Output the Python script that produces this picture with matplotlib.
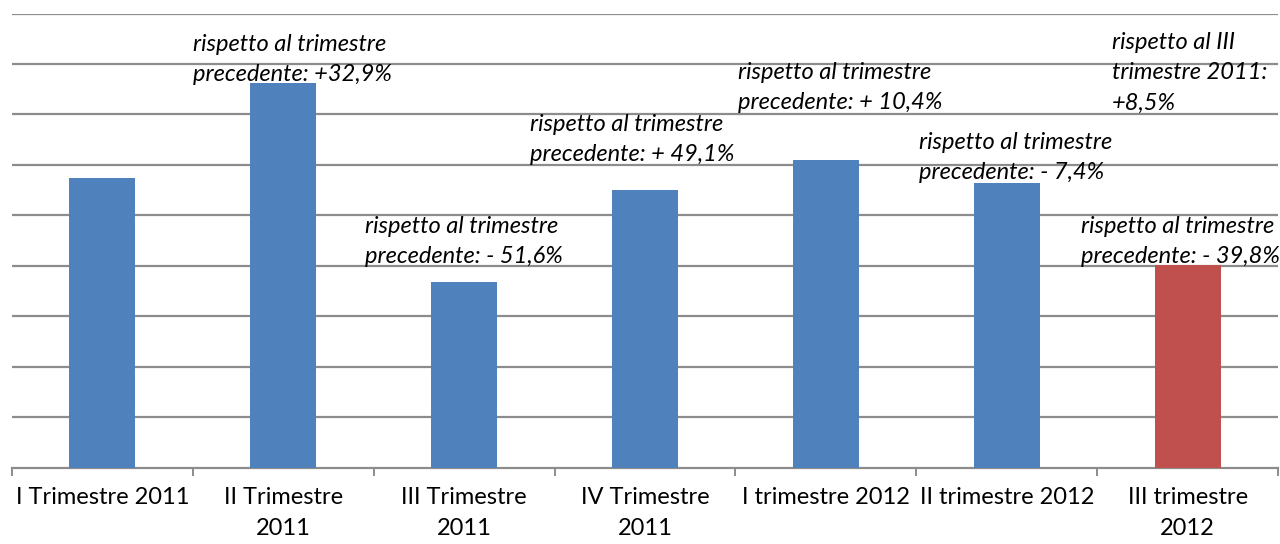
import matplotlib

matplotlib.use("Agg")
import matplotlib.pyplot as plt
import numpy as np

categories = [
    "I Trimestre 2011",
    "II Trimestre\n2011",
    "III Trimestre\n2011",
    "IV Trimestre\n2011",
    "I trimestre 2012",
    "II trimestre 2012",
    "III trimestre\n2012",
]
values = [5.74, 7.62, 3.68, 5.50, 6.10, 5.64, 4.02]
colors = ["#4F81BD"] * 6 + ["#C0504D"]

notes = [
    "rispetto al trimestre\nprecedente: +32,9%",
    "rispetto al trimestre\nprecedente: - 51,6%",
    "rispetto al trimestre\nprecedente: + 49,1%",
    "rispetto al trimestre\nprecedente: + 10,4%",
    "rispetto al trimestre\nprecedente: - 7,4%",
    "rispetto al III\ntrimestre 2011:\n+8,5%",
    "rispetto al trimestre\nprecedente: - 39,8%",
]
# note anchors in figure pixels (left x, top y)
note_pos = [(193, 34), (365, 216), (530, 114), (738, 62), (919, 132), (1112, 32), (1081, 216)]

W, H = 1280, 544
fig = plt.figure(figsize=(W / 100, H / 100), dpi=100)
ax_left, ax_right, ax_top, ax_bot = 12, 1278, 13.5, 467.5
ax = fig.add_axes([ax_left / W, 1 - ax_bot / H, (ax_right - ax_left) / W, (ax_bot - ax_top) / H])

x = np.arange(len(categories))
ax.bar(x, values, width=0.365, color=colors, zorder=3)
ax.set_xlim(-0.5, len(categories) - 0.5)
ax.set_ylim(0, 9)
ax.set_yticks(np.arange(1, 10))
ax.yaxis.grid(True, color="#8c8c8c", linewidth=1.6, zorder=0)
ax.tick_params(axis="y", left=False, labelleft=False)

for s in ["top", "right", "left"]:
    ax.spines[s].set_visible(False)
ax.spines["bottom"].set_color("#8c8c8c")
ax.spines["bottom"].set_linewidth(1.6)

ax.set_xticks(np.arange(-0.5, len(categories), 1.0))
ax.set_xticklabels([])
ax.tick_params(axis="x", direction="out", length=6, color="#8c8c8c", width=1.4)
ax.set_xticks(x, minor=True)
ax.set_xticklabels(categories, minor=True, fontsize=17, family="Lato", color="#000000",
                   linespacing=1.6)
ax.tick_params(axis="x", which="minor", length=0, pad=14)

for txt, (px, py) in zip(notes, note_pos):
    fig.text(px / W, 1 - py / H, txt, ha="left", va="top", fontsize=17, style="italic",
             family="Lato", linespacing=1.55, color="#000000")

fig.savefig("out.png", dpi=100)
